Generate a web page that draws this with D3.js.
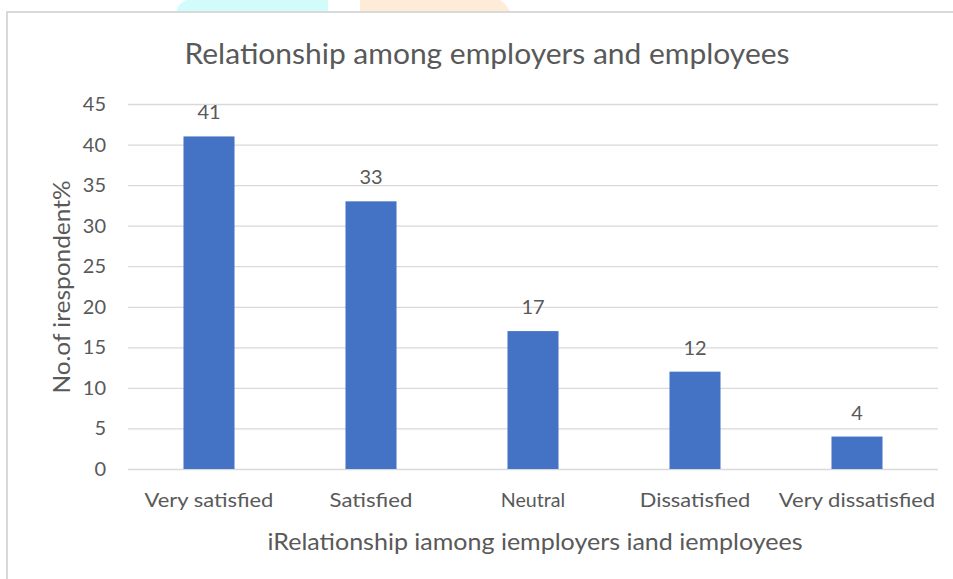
<!DOCTYPE html>
<html>
  <head>
    <meta charset="utf-8"/>
    <title>Relationship among employers and employees</title>
    <style>
      body { margin: 0; background: #fff; }
      text { font-family: Lato, "Open Sans", sans-serif; fill: #595959; }
      .grid line { stroke: #d9d9d9; stroke-width: 1.3px; }
      .grid path { display: none; }
      .bar { fill: #4472c4; }
    </style>
    <script src="https://d3js.org/d3.v7.min.js"></script>
  </head>
  <body>
    <svg id="chart" width="953" height="579"></svg>
    <script>
      // data
      var categories = ["Very satisfied", "Satisfied", "Neutral", "Dissatisfied", "Very dissatisfied"];
      var values = [41, 33, 17, 12, 4];
      var yTicks = [0, 5, 10, 15, 20, 25, 30, 35, 40, 45];

      var svg = d3.select("#chart");

      // scraps of coloured shapes poking in above the frame
      svg.append("path")
        .attr("d", "M176,11 L180,4 L186,0 L328,0 L328,11 Z")
        .attr("fill", "#d2fcfc");
      svg.append("path")
        .attr("d", "M360,11 L360,0 L500,0 L505,4 L510,11 Z")
        .attr("fill", "#feecd9");

      // chart frame
      svg.append("rect")
        .attr("x", 7).attr("y", 12)
        .attr("width", 960).attr("height", 600)
        .attr("fill", "#fff")
        .attr("stroke", "#d9d9d9")
        .attr("stroke-width", 2);

      var plotLeft = 128, plotRight = 938, plotTop = 104, plotBottom = 469;

      var x = d3.scaleBand()
        .domain(categories)
        .range([plotLeft, plotRight])
        .paddingInner(0.685)
        .paddingOuter(0.3425);

      var y = d3.scaleLinear()
        .domain([0, 45])
        .range([plotBottom, plotTop]);

      // gridlines
      svg.append("g")
        .attr("class", "grid")
        .attr("transform", "translate(" + plotLeft + ",0)")
        .call(d3.axisRight(y).tickValues(yTicks).tickSize(plotRight - plotLeft).tickFormat(""));

      // y tick labels
      svg.selectAll(".ylab")
        .data(yTicks)
        .enter().append("text")
        .attr("class", "ylab")
        .attr("x", 106)
        .attr("y", function(d) { return y(d); })
        .attr("dy", "0.35em")
        .attr("text-anchor", "end")
        .attr("font-size", 20)
        .text(function(d) { return d; });

      // bars
      svg.selectAll(".bar")
        .data(values)
        .enter().append("rect")
        .attr("class", "bar")
        .attr("x", function(d, i) { return x(categories[i]); })
        .attr("y", function(d) { return y(d); })
        .attr("width", x.bandwidth())
        .attr("height", function(d) { return y(0) - y(d); });

      // value labels
      svg.selectAll(".val")
        .data(values)
        .enter().append("text")
        .attr("class", "val")
        .attr("x", function(d, i) { return x(categories[i]) + x.bandwidth() / 2; })
        .attr("y", function(d) { return y(d) - 24; })
        .attr("dy", "0.35em")
        .attr("text-anchor", "middle")
        .attr("font-size", 20)
        .text(function(d) { return d; });

      // x tick labels
      svg.selectAll(".xlab")
        .data(categories)
        .enter().append("text")
        .attr("class", "xlab")
        .attr("x", function(d) { return x(d) + x.bandwidth() / 2; })
        .attr("y", 500)
        .attr("dy", "0.35em")
        .attr("text-anchor", "middle")
        .attr("font-size", 20)
        .attr("textLength", function(d) { return d.length * 9.2; })
        .attr("lengthAdjust", "spacingAndGlyphs")
        .text(function(d) { return d; });

      // titles
      svg.append("text")
        .attr("x", 487).attr("y", 54)
        .attr("dy", "0.35em")
        .attr("text-anchor", "middle")
        .attr("font-size", 28)
        .attr("textLength", 605)
        .attr("lengthAdjust", "spacingAndGlyphs")
        .text("Relationship among employers and employees");

      svg.append("text")
        .attr("x", 535).attr("y", 542)
        .attr("dy", "0.35em")
        .attr("text-anchor", "middle")
        .attr("font-size", 23)
        .attr("textLength", 535)
        .attr("lengthAdjust", "spacingAndGlyphs")
        .text("iRelationship iamong iemployers iand iemployees");

      svg.append("text")
        .attr("transform", "translate(62,287) rotate(-90)")
        .attr("dy", "0.35em")
        .attr("text-anchor", "middle")
        .attr("font-size", 23)
        .attr("textLength", 213)
        .attr("lengthAdjust", "spacingAndGlyphs")
        .text("No.of irespondent%");
    </script>
  </body>
</html>
